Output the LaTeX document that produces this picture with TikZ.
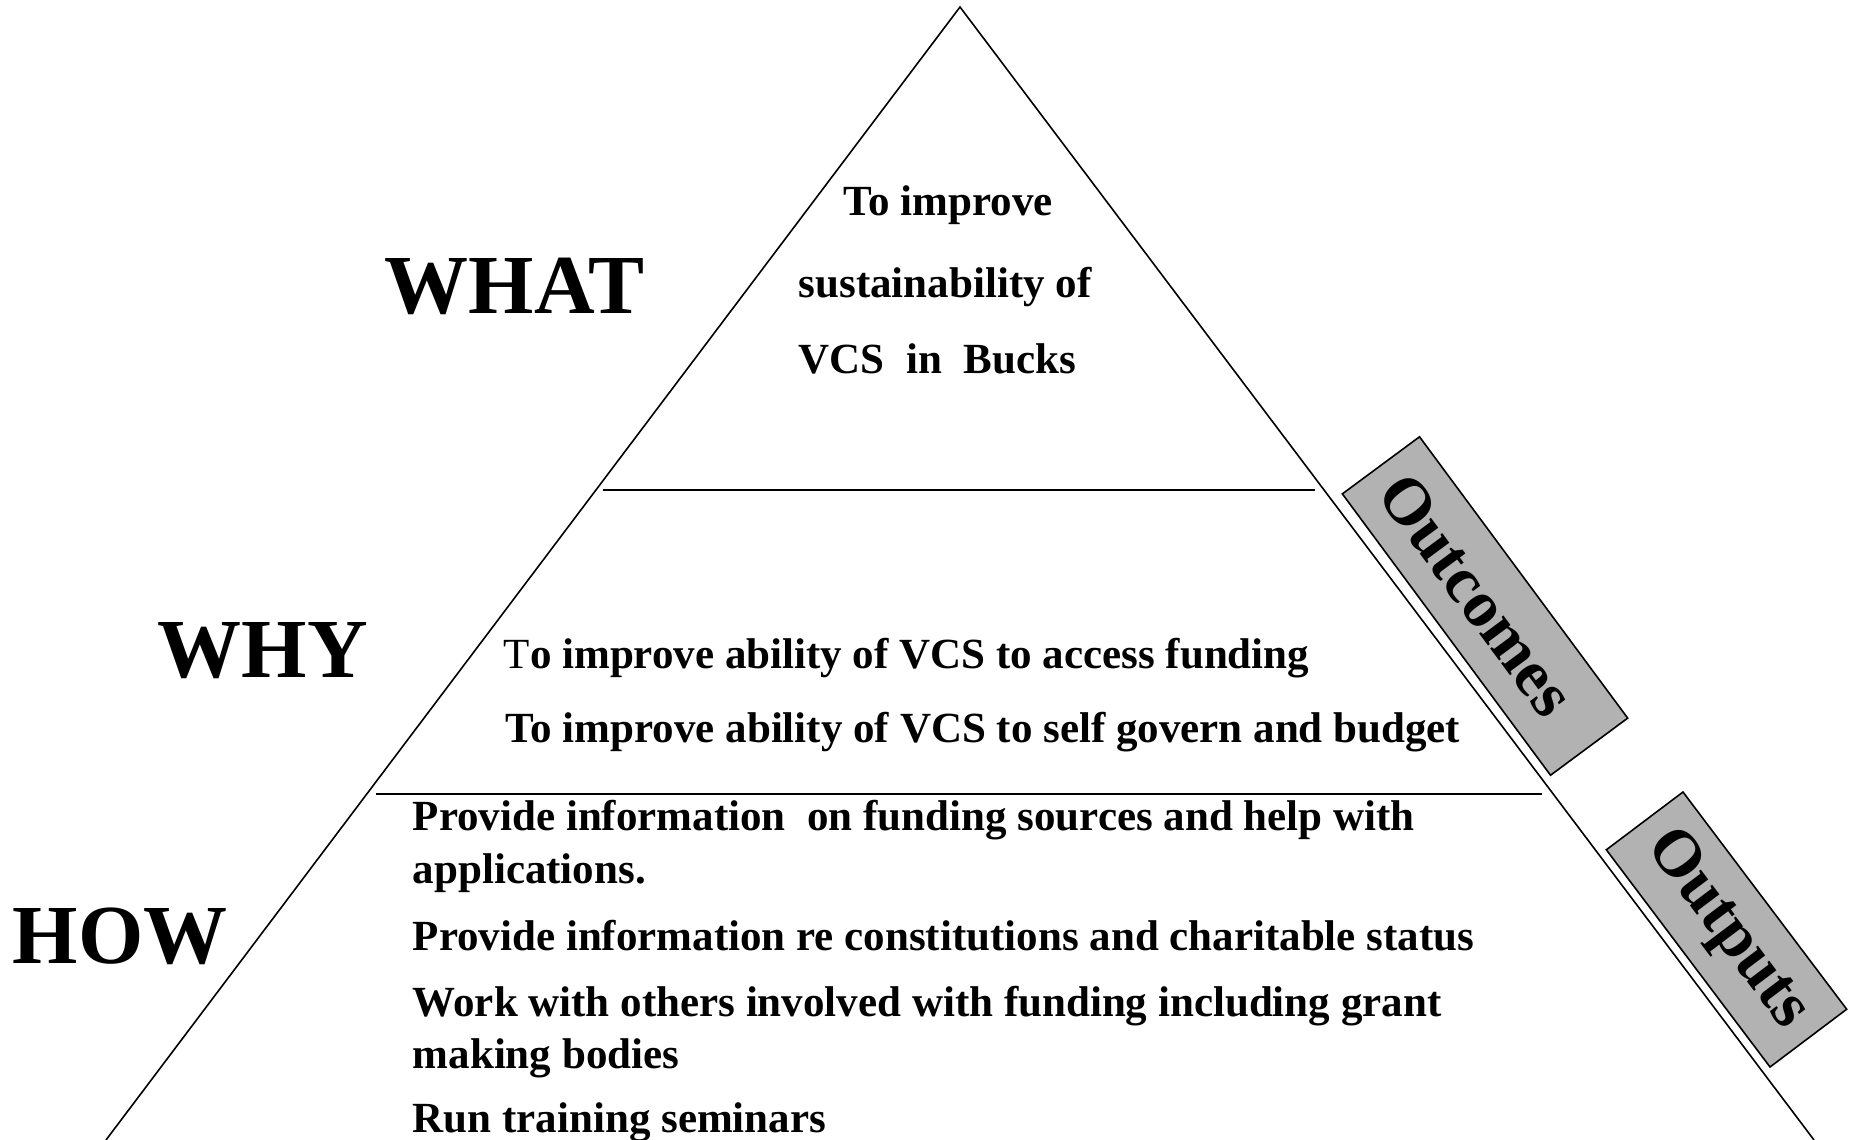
\documentclass[tikz,border=0pt]{standalone}
\usepackage{fontspec}
\setmainfont{Liberation Serif}
\usetikzlibrary{positioning}

\tikzset{
  bigword/.style={anchor=base west, inner sep=0pt, font=\fontsize{42}{48}\selectfont\bfseries},
  linetext/.style={anchor=base west, inner sep=0pt, font=\fontsize{21.5}{26}\selectfont\bfseries},
  tagbox/.style={draw, fill=black!30, minimum height=48pt, inner sep=0pt,
    font=\fontsize{33}{38}\selectfont\bfseries}
}

\begin{document}
\begin{tikzpicture}[x=0.5pt,y=-0.5pt,line width=0.8pt]
			\useasboundingbox (0,0) rectangle (1853,1140);
			
			% the pyramid
			\coordinate (apex) at (960,7);
			\coordinate (bl) at (106,1140);
			\coordinate (br) at (1814,1140);
			\draw (bl) -- (apex) -- (br);
			\draw (603,490) -- (1315,490);
			\draw (376,794) -- (1542,794);
			
			% level names
			\node[bigword] (what) at (384,313) {WHAT};
			\node[bigword] (why) at (157,677) {WHY};
			\node[bigword] (how) at (12,963) {HOW};
			
			% top
			\node[linetext] (what1) at (843,215) {To improve};
			\node[linetext] (what2) at (798,297) {sustainability of};
			\node[linetext] (what3) at (798,373) {VCS\ \ in\ \ Bucks};
			
			% middle
			\node[linetext] (why1) at (503,668) {{\mdseries T}o improve ability of VCS to access funding};
			\node[linetext] (why2) at (505,742) {To improve ability of VCS to self govern and budget};
			
			% bottom
			\node[linetext] (how1) at (412,830) {Provide information\ \ on funding sources and help with};
			\node[linetext] (how2) at (412,883) {applications.};
			\node[linetext] (how3) at (412,950) {Provide information re constitutions and charitable status};
			\node[linetext] (how4) at (412,1016) {Work with others involved with funding including grant};
			\node[linetext] (how5) at (412,1068) {making bodies};
			\node[linetext] (how6) at (412,1132) {Run training seminars};
			
			% side tags
			\node[tagbox, minimum width=175pt, rotate=-53.5] (outcomes) at (1485,606) {Outcomes\kern14pt\relax};
			\node[tagbox, minimum width=136pt, rotate=-53] (outputs) at (1726.5,929.5) {Outputs};
\end{tikzpicture}
\end{document}
